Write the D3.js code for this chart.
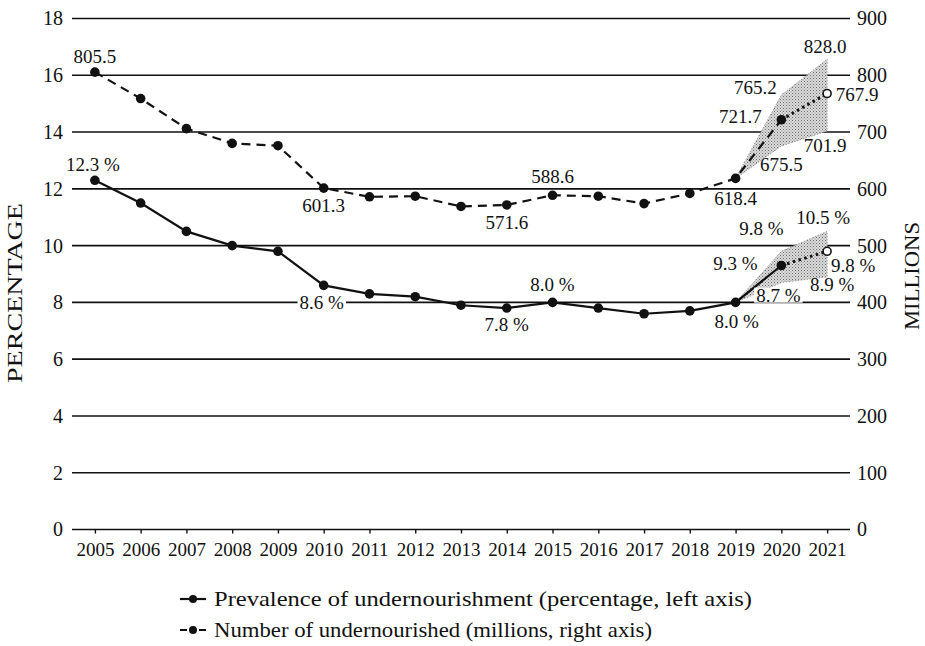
<!DOCTYPE html>
<html>
<head>
<meta charset="utf-8">
<script src="https://cdn.jsdelivr.net/npm/d3@7"></script>
<style>
  html, body { margin: 0; padding: 0; background: #fff; }
  svg { display: block; }
  text { font-family: "Liberation Serif", "DejaVu Serif", serif; fill: #111; }
</style>
</head>
<body>
<svg id="chart" width="925" height="646"></svg>
<script>
// ---------- data ----------
const years = [2005, 2006, 2007, 2008, 2009, 2010, 2011, 2012, 2013, 2014, 2015, 2016, 2017, 2018, 2019, 2020, 2021];
const prevalence = [12.3, 11.5, 10.5, 10.0, 9.8, 8.6, 8.3, 8.2, 7.9, 7.8, 8.0, 7.8, 7.6, 7.7, 8.0, 9.3, 9.8];
const undernourished = [805.5, 759, 706, 680, 676, 601.3, 586, 587, 569, 571.6, 588.6, 587, 574, 592, 618.4, 721.7, 767.9];
const rangeYears = [2019, 2020, 2021];
const prevalenceLow = [8.0, 8.7, 8.9];
const prevalenceHigh = [8.0, 9.8, 10.5];
const undernourishedLow = [618.4, 675.5, 701.9];
const undernourishedHigh = [618.4, 765.2, 828.0];
const leftTicks = [0, 2, 4, 6, 8, 10, 12, 14, 16, 18];
const rightTicks = [0, 100, 200, 300, 400, 500, 600, 700, 800, 900];
const leftTitle = "PERCENTAGE";
const rightTitle = "MILLIONS";
const legendLabels = ["Prevalence of undernourishment (percentage, left axis)", "Number of undernourished (millions, right axis)"];

// ---------- layout ----------
const svg = d3.select("#chart");
const X0 = 72, X1 = 850, Y0 = 529.5, Y1 = 18.5;
const x = d3.scalePoint().domain(years).range([X0, X1]).padding(0.5);
const yL = d3.scaleLinear().domain([0, 18]).range([Y0, Y1]);
const yR = d3.scaleLinear().domain([0, 900]).range([Y0, Y1]);

// stipple pattern for uncertainty bands
const defs = svg.append("defs");
const pat = defs.append("pattern").attr("id", "stip").attr("patternUnits", "userSpaceOnUse")
  .attr("width", 3).attr("height", 3);
pat.append("rect").attr("width", 3).attr("height", 3).attr("fill", "#dadada");
pat.append("rect").attr("x", 0).attr("y", 0).attr("width", 1).attr("height", 1).attr("fill", "#6e6e6e");
pat.append("rect").attr("x", 1.5).attr("y", 1.5).attr("width", 1).attr("height", 1).attr("fill", "#909090");

// gridlines
svg.append("g").selectAll("line").data(leftTicks).join("line")
  .attr("x1", X0).attr("x2", X1)
  .attr("y1", d => yL(d)).attr("y2", d => yL(d))
  .attr("stroke", "#111").attr("stroke-width", 1.6);

// left axis labels
const gL = svg.append("g").attr("transform", `translate(${X0},0)`)
  .call(d3.axisLeft(yL).tickValues(leftTicks).tickSize(0).tickPadding(9));
gL.select(".domain").remove();
gL.selectAll("text").attr("font-size", 20).attr("fill", "#111");

// right axis labels
const gR = svg.append("g").attr("transform", `translate(${X1},0)`)
  .call(d3.axisRight(yR).tickValues(rightTicks).tickSize(0).tickPadding(7));
gR.select(".domain").remove();
gR.selectAll("text").attr("font-size", 20).attr("fill", "#111");

// bottom axis
const gB = svg.append("g").attr("transform", `translate(0,${Y0})`)
  .call(d3.axisBottom(x).tickSize(4).tickPadding(9).tickFormat(d3.format("d")));
gB.select(".domain").remove();
gB.selectAll("line").attr("stroke", "#111").attr("stroke-width", 1.4);
gB.selectAll("text").attr("font-size", 19).attr("fill", "#111");

// axis titles
svg.append("text").attr("transform", `translate(22,293) rotate(-90)`)
  .attr("text-anchor", "middle").attr("font-size", 20).text(leftTitle)
  .attr("textLength", 180).attr("lengthAdjust", "spacingAndGlyphs");
svg.append("text").attr("transform", `translate(919,276) rotate(-90)`)
  .attr("text-anchor", "middle").attr("font-size", 20).text(rightTitle)
  .attr("textLength", 108).attr("lengthAdjust", "spacingAndGlyphs");

// uncertainty bands
function band(low, high, y) {
  const pts = rangeYears.map((yr, i) => [x(yr), y(high[i])])
    .concat(rangeYears.map((yr, i) => [x(yr), y(low[i])]).reverse());
  svg.append("path").attr("d", "M" + pts.join("L") + "Z")
    .attr("fill", "url(#stip)").attr("stroke", "#888").attr("stroke-width", 0.8)
    .attr("stroke-dasharray", "1.5,1.5");
}
band(undernourishedLow, undernourishedHigh, yR);
band(prevalenceLow, prevalenceHigh, yL);

// lines
const idx2020 = years.indexOf(2020);
function series(vals, y, dash) {
  const pts = years.map((yr, i) => [x(yr), y(vals[i])]);
  const line = d3.line();
  svg.append("path").attr("d", line(pts.slice(0, idx2020 + 1)))
    .attr("fill", "none").attr("stroke", "#111").attr("stroke-width", 2.2)
    .attr("stroke-dasharray", dash);
  svg.append("path").attr("d", line(pts.slice(idx2020)))
    .attr("fill", "none").attr("stroke", "#111").attr("stroke-width", 3)
    .attr("stroke-dasharray", "2.5,3.5");
  svg.append("g").selectAll("circle").data(pts).join("circle")
    .attr("cx", d => d[0]).attr("cy", d => d[1])
    .attr("r", (d, i) => i === years.length - 1 ? 4 : 4.8)
    .attr("fill", (d, i) => i === years.length - 1 ? "#fff" : "#111")
    .attr("stroke", "#111").attr("stroke-width", (d, i) => i === years.length - 1 ? 1.6 : 0);
}
series(undernourished, yR, "9,6");
series(prevalence, yL, null);

// annotations
const fmtN = d3.format(".1f");
const fmtP = v => d3.format(".1f")(v) + " %";
const ann = [
  { v: undernourished[0], yr: 2005, s: "n", dx: 0, dy: -16 },
  { v: prevalence[0], yr: 2005, s: "p", dx: -2, dy: -16 },
  { v: undernourished[5], yr: 2010, s: "n", dx: 0, dy: 17 },
  { v: prevalence[5], yr: 2010, s: "p", dx: -2, dy: 17, bg: true },
  { v: undernourished[9], yr: 2014, s: "n", dx: 0, dy: 17 },
  { v: prevalence[9], yr: 2014, s: "p", dx: 0, dy: 16 },
  { v: undernourished[10], yr: 2015, s: "n", dx: 0, dy: -19 },
  { v: prevalence[10], yr: 2015, s: "p", dx: 0, dy: -18 },
  { v: undernourished[14], yr: 2019, s: "n", dx: 0, dy: 20 },
  { v: prevalence[14], yr: 2019, s: "p", dx: 1, dy: 19 },
  { v: undernourishedLow[1], yr: 2020, s: "n", dx: 0, dy: 18 },
  { v: undernourishedHigh[1], yr: 2020, s: "n", dx: -26, dy: -8 },
  { v: undernourished[15], yr: 2020, s: "n", dx: -41, dy: -3 },
  { v: undernourishedHigh[2], yr: 2021, s: "n", dx: -2, dy: -13 },
  { v: undernourished[16], yr: 2021, s: "n", dx: 30, dy: 1 },
  { v: undernourishedLow[2], yr: 2021, s: "n", dx: -2, dy: 14 },
  { v: prevalenceHigh[2], yr: 2021, s: "p", dx: -4, dy: -14.5 },
  { v: prevalenceHigh[1], yr: 2020, s: "p", dx: -20, dy: -23 },
  { v: prevalence[15], yr: 2020, s: "p", dx: -46, dy: -2 },
  { v: prevalence[16], yr: 2021, s: "p", dx: 26, dy: 14.5 },
  { v: prevalenceLow[2], yr: 2021, s: "p", dx: 5, dy: 7.5 },
  { v: prevalenceLow[1], yr: 2020, s: "p", dx: -3, dy: 12.5, bg: true }
];
const gA = svg.append("g");
ann.forEach(a => {
  const y = a.s === "n" ? yR : yL;
  const cx = x(a.yr) + a.dx, cy = y(a.v) + a.dy;
  const t = gA.append("text").attr("x", cx).attr("y", cy).attr("dy", "0.35em")
    .attr("text-anchor", "middle").attr("font-size", 19)
    .text(a.s === "n" ? fmtN(a.v) : fmtP(a.v));
  if (a.bg) {
    const b = t.node().getBBox();
    gA.insert("rect", () => t.node()).attr("x", b.x - 2).attr("y", b.y + 3)
      .attr("width", b.width + 4).attr("height", b.height - 6).attr("fill", "#fff");
  }
});

// legend
const lg = svg.append("g");
const legY = [599, 630];
const legLen = [538, 438];
legY.forEach((ly, i) => {
  lg.append("line").attr("x1", 180).attr("x2", 206).attr("y1", ly).attr("y2", ly)
    .attr("stroke", "#111").attr("stroke-width", 2.2)
    .attr("stroke-dasharray", i === 0 ? null : "7,12");
  lg.append("circle").attr("cx", 193).attr("cy", ly).attr("r", 4).attr("fill", "#111");
  lg.append("text").attr("x", 214).attr("y", ly).attr("dy", "0.35em")
    .attr("font-size", 21).attr("textLength", legLen[i]).attr("lengthAdjust", "spacingAndGlyphs")
    .text(legendLabels[i]);
});
</script>
</body>
</html>
